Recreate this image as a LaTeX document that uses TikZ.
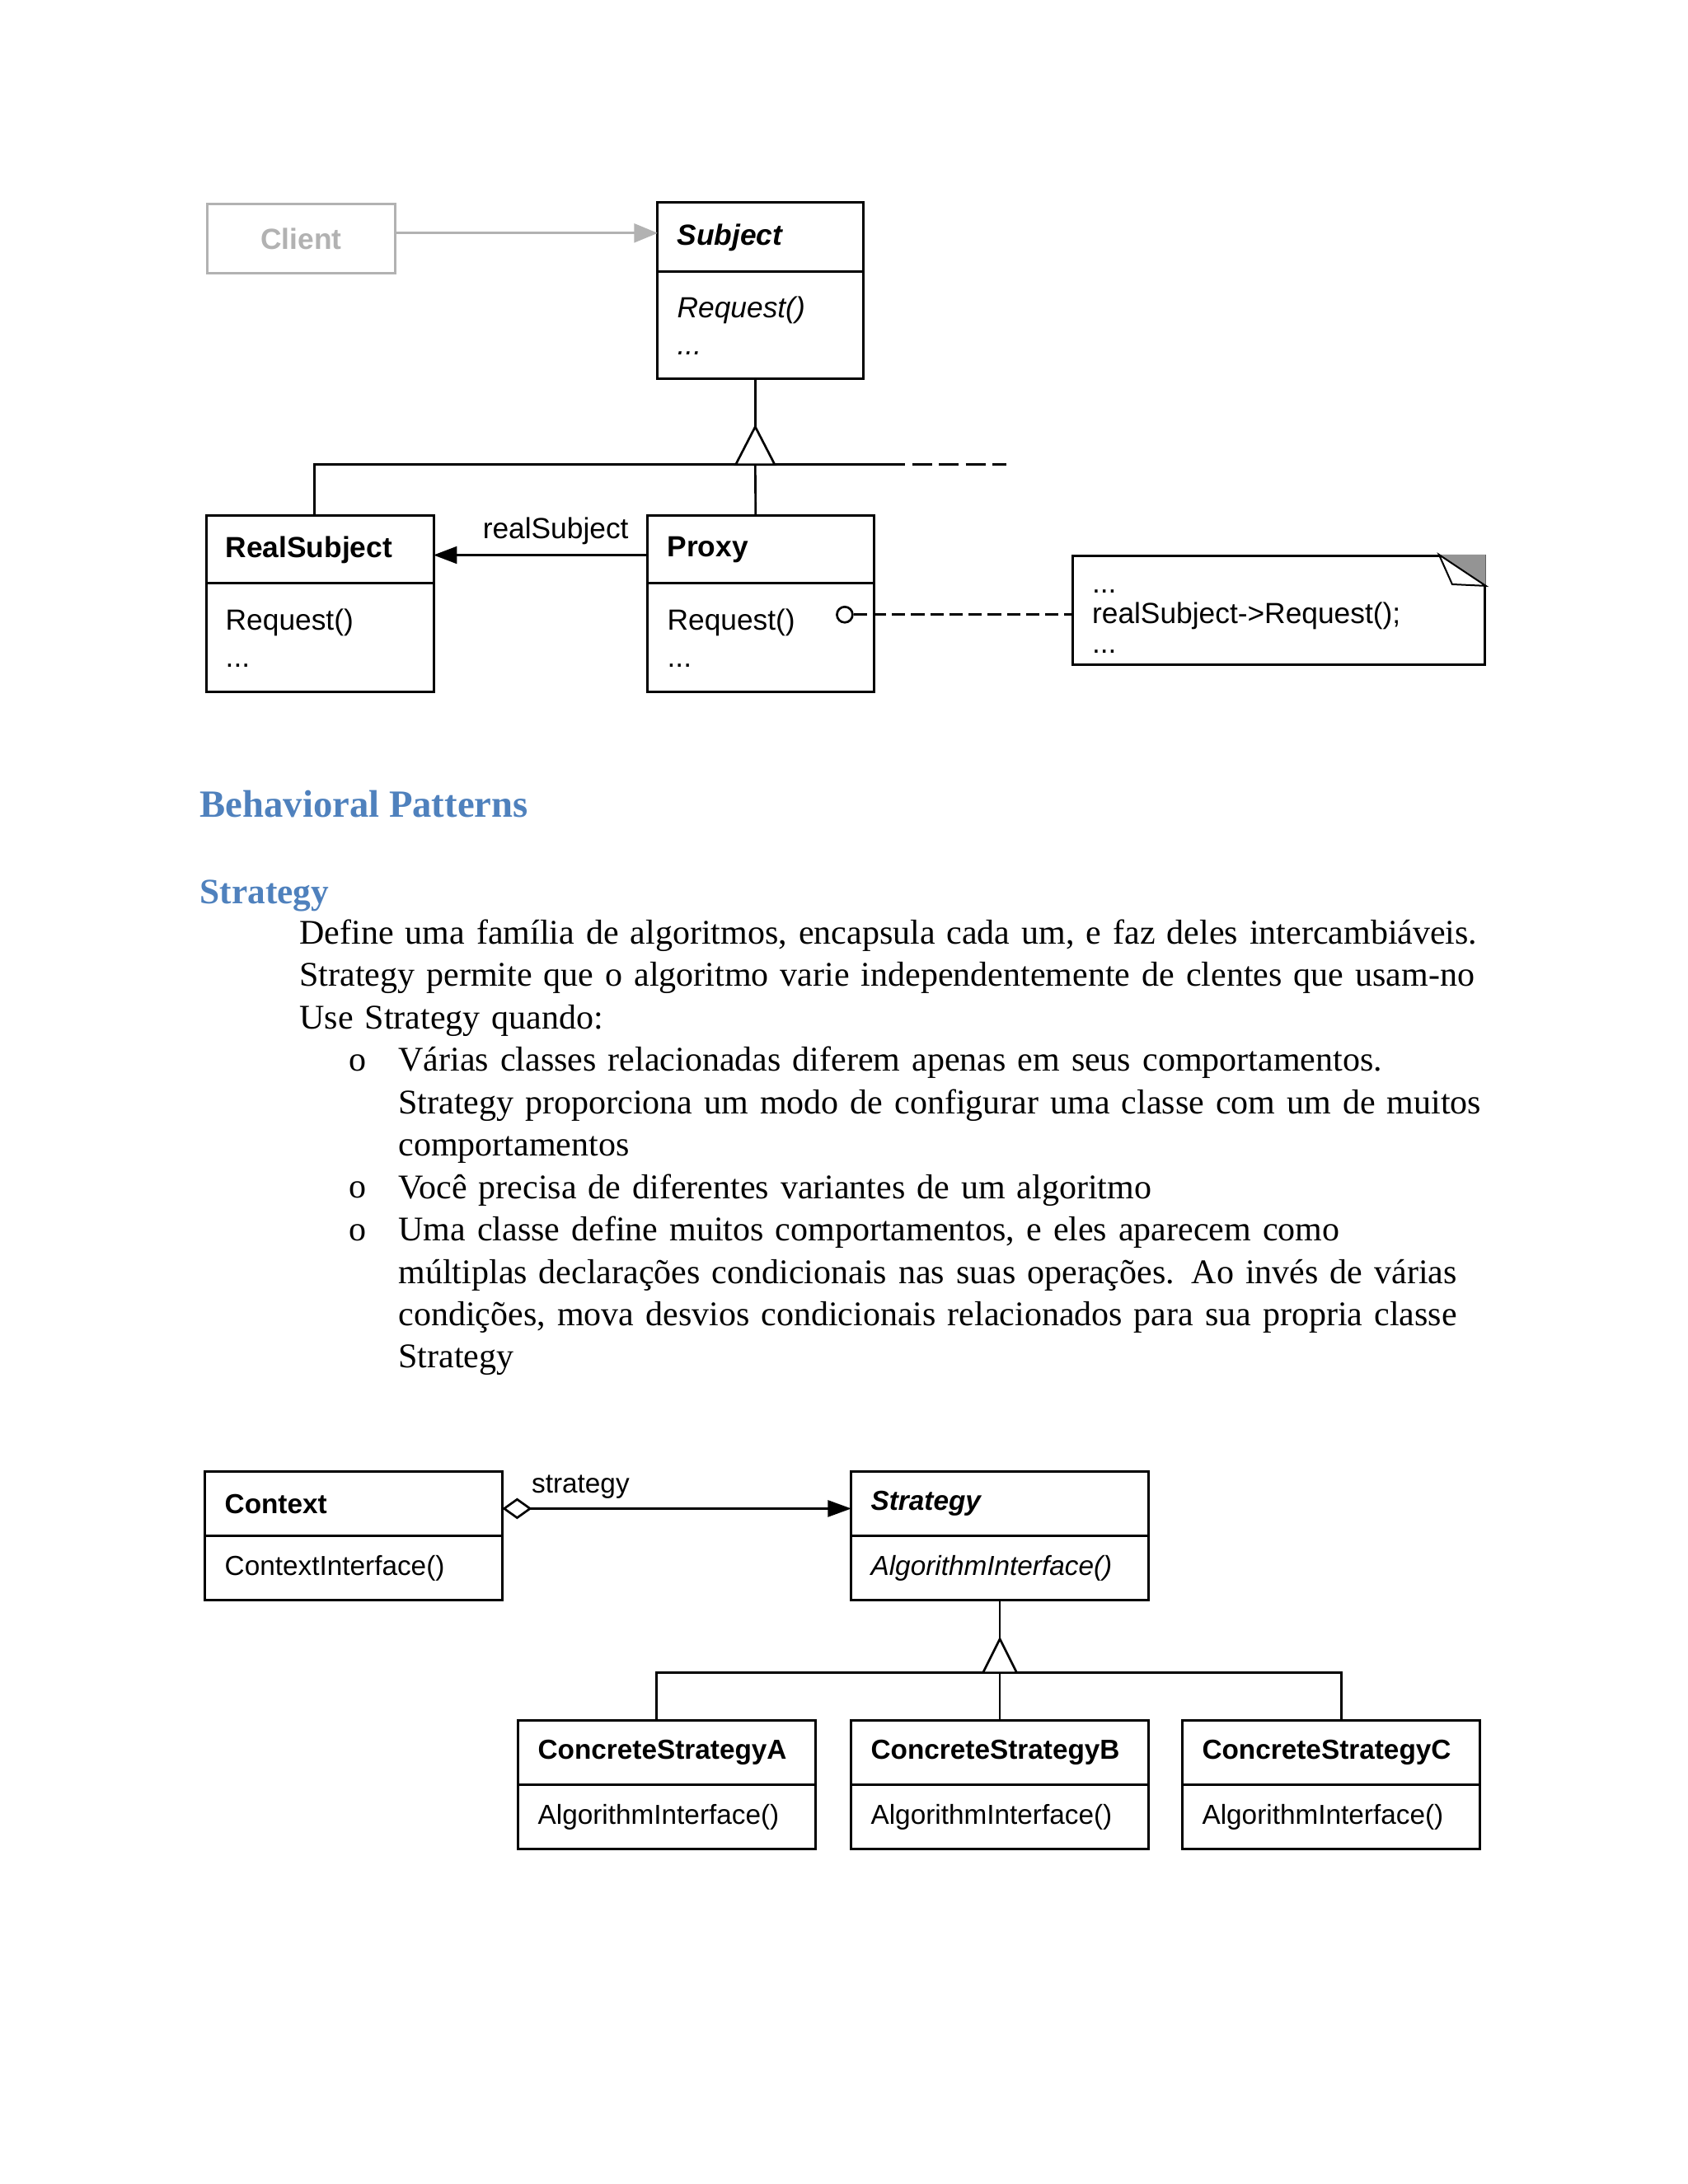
\documentclass[tikz,border=0pt]{standalone}
\usepackage{fontspec}
\setmainfont{Liberation Serif}
\setsansfont{Liberation Sans}
\usetikzlibrary{arrows.meta,positioning,calc}
\definecolor{headBlue}{RGB}{79,129,189}
\colorlet{ClientGray}{black!30}
\colorlet{FoldGray}{black!42}

\begin{document}
\begin{tikzpicture}[
    umlline/.style={line width=0.8pt},
    clsname/.style={draw,line width=0.9pt,outer sep=0pt,inner xsep=0.25cm,inner ysep=0pt,align=left,anchor=north west,font=\sffamily\bfseries\fontsize{#1}{12}\selectfont},
    clsname/.default=10.6,
    clsops/.style={draw,line width=0.9pt,outer sep=0pt,inner xsep=0.25cm,inner ysep=0pt,align=left,font=\sffamily\fontsize{#1}{13.5}\selectfont},
    clsops/.default=10.6,
    umllabel/.style={font=\sffamily\fontsize{#1}{12}\selectfont},
    umllabel/.default=10.6,
    hasarrow/.style={umlline,-{Triangle[length=0.3cm,width=0.22cm]}},
    bodytext/.style={anchor=north west,inner sep=0pt,align=left,text width=16.5cm,font=\fontsize{12.6}{15.4}\selectfont},
    bulletmark/.style={anchor=base,inner sep=0pt,font=\fontsize{12.6}{15.4}\selectfont},
    heading/.style={anchor=base west,inner sep=0pt,text=headBlue,font=\bfseries\fontsize{#1}{16}\selectfont}
  ]
  \fill[white] (0,0) rectangle (21.59,-27.94);
  \useasboundingbox (0,0) rectangle (21.59,-27.94);

  % Proxy
  \node[draw=ClientGray,text=ClientGray,line width=0.9pt,anchor=north west,minimum width=2.4cm,minimum height=0.886cm,inner sep=0pt,font=\sffamily\bfseries\fontsize{10.6}{12}\selectfont] (client) at (2.636,-2.593) {Client};
  \node[clsname,text width=2.136cm,minimum height=0.886cm] (subj) at (8.413,-2.593) {\itshape Subject};
  \node[clsops,text width=2.136cm,minimum height=1.37cm,below=0pt of subj] (subjops) {\itshape Request()\\...};
  \node[clsname,text width=2.41cm,minimum height=0.864cm] (realsub) at (2.636,-6.599) {RealSubject};
  \node[clsops,text width=2.41cm,minimum height=1.392cm,below=0pt of realsub] (realsubops) {Request()\\...};
  \node[clsname,text width=2.4cm,minimum height=0.864cm] (proxy) at (8.286,-6.599) {Proxy};
  \node[clsops,text width=2.4cm,minimum height=1.392cm,below=0pt of proxy] (proxyops) {Request()\\...};
  \node[draw,line width=0.9pt,anchor=north west,inner xsep=0.25cm,inner ysep=0pt,text width=4.77cm,minimum height=1.392cm,align=left,font=\sffamily\fontsize{10.6}{11}\selectfont] (note) at (13.705,-7.095) {\rule{0pt}{9.5pt}...\\realSubject->Request();\\...};
  \fill[FoldGray] ([xshift=-0.6cm]note.north east) -- (note.north east) -- ([yshift=-0.4cm]note.north east) -- cycle;
  \draw[line width=0.6pt,fill=white] ([xshift=-0.6cm]note.north east) -- ([xshift=-0.43cm,yshift=-0.38cm]note.north east) -- ([yshift=-0.4cm]note.north east) -- cycle;
  \node[circle,draw,fill=white,line width=0.8pt,minimum size=0.2cm,inner sep=0pt] (reqdot) at ($(proxyops.north east)+(-0.38,-0.4)$) {};

  \draw[umlline,ClientGray,-{Triangle[length=0.3cm,width=0.24cm]}] ([yshift=0.07cm]client.east) -- ([yshift=0.07cm]client.east -| subj.west);
  \draw[hasarrow] ([yshift=-0.07cm]proxy.west) -- ([yshift=-0.07cm]proxy.west -| realsub.east) node[pos=0.43,above,umllabel] (rslbl) {realSubject};
  \draw[umlline,dash pattern=on 0.17cm off 0.075cm] (reqdot.east) -- (reqdot.east -| note.west);
  \draw[umlline] ([xshift=-0.07cm]subjops.south) -- ++(0,-0.61) coordinate (sbTip);
  \coordinate (sbBase) at ([yshift=-0.485cm]sbTip);
  \draw[umlline] ([xshift=-0.07cm]realsub.north) |- ($(sbBase)+(1.92,0)$) coordinate (sbEnd);
  \draw[umlline,dash pattern=on 0.257cm off 0.086cm,dash phase=0.257cm] (sbEnd) -- ++(1.29,0);
  \draw[umlline] (sbBase) -- ([xshift=-0.07cm]proxy.north);
  \draw[umlline,fill=white] (sbTip) -- ([xshift=-0.25cm]sbBase) -- ([xshift=0.25cm]sbBase) -- cycle;

  % text
  \node[heading=14] (behav) at (2.551,-10.458) {Behavioral Patterns};
  \node[heading=13] (strathead) at (2.551,-11.565) {Strategy};
  \node[bodytext] (intro) at (3.827,-11.691) {\strut Define uma família de algoritmos, encapsula cada um, e faz deles intercambiáveis.\\
    Strategy permite que o algoritmo varie independentemente de clentes que usam-no\\
    Use Strategy quando:};
  \node[bulletmark] (mkA) at (4.575,-13.699) {o};
  \node[bodytext] (itemA) at (5.092,-13.319) {\strut Várias classes relacionadas diferem apenas em seus comportamentos.\\
    Strategy proporciona um modo de configurar uma classe com um de muitos\\
    comportamentos};
  \node[bulletmark] (mkB) at (4.575,-15.328) {o};
  \node[bodytext] (itemB) at (5.092,-14.948) {\strut Você precisa de diferentes variantes de um algoritmo};
  \node[bulletmark] (mkC) at (4.575,-15.871) {o};
  \node[bodytext] (itemC) at (5.092,-15.491) {\strut Uma classe define muitos comportamentos, e eles aparecem como\\
    múltiplas declarações condicionais nas suas operações. Ao invés de várias\\
    condições, mova desvios condicionais relacionados para sua propria classe\\
    Strategy};

  % Strategy
  \node[clsname=10,text width=3.3cm,minimum height=0.822cm] (ctx) at (2.625,-18.828) {Context};
  \node[clsops=10,text width=3.3cm,minimum height=0.822cm,below=0pt of ctx] (ctxops) {ContextInterface()};
  \node[clsname=10,text width=3.3cm,minimum height=0.822cm] (strat) at (10.89,-18.828) {\itshape Strategy};
  \node[clsops=10,text width=3.3cm,minimum height=0.822cm,below=0pt of strat] (stratops) {\itshape AlgorithmInterface()};
  \node[clsname=10,text width=3.3cm,minimum height=0.822cm] (csa) at (6.631,-22.012) {ConcreteStrategyA};
  \node[clsops=10,text width=3.3cm,minimum height=0.822cm,below=0pt of csa] (csaops) {AlgorithmInterface()};
  \node[clsname=10,text width=3.3cm,minimum height=0.822cm] (csb) at (10.89,-22.012) {ConcreteStrategyB};
  \node[clsops=10,text width=3.3cm,minimum height=0.822cm,below=0pt of csb] (csbops) {AlgorithmInterface()};
  \node[clsname=10,text width=3.3cm,minimum height=0.822cm] (csc) at (15.128,-22.012) {ConcreteStrategyC};
  \node[clsops=10,text width=3.3cm,minimum height=0.822cm,below=0pt of csc] (cscops) {AlgorithmInterface()};

  \draw[umlline,{Diamond[open,length=0.38cm,width=0.27cm]}-{Triangle[length=0.3cm,width=0.21cm]}] ([yshift=-0.06cm]ctx.east) -- ([yshift=-0.06cm]ctx.east -| strat.west) node[pos=0.055,above right,umllabel=10] (stratlbl) {strategy};
  \draw[umlline] (stratops.south) -- ++(0,-0.495) coordinate (stTip);
  \coordinate (stBase) at ([yshift=-0.432cm]stTip);
  \draw[umlline] ([xshift=-0.13cm]csa.north) |- (stBase) -| ([xshift=0.13cm]csc.north);
  \draw[umlline] (stBase) -- (csb.north);
  \draw[umlline,fill=white] (stTip) -- ([xshift=-0.216cm]stBase) -- ([xshift=0.216cm]stBase) -- cycle;
\end{tikzpicture}
\end{document}
